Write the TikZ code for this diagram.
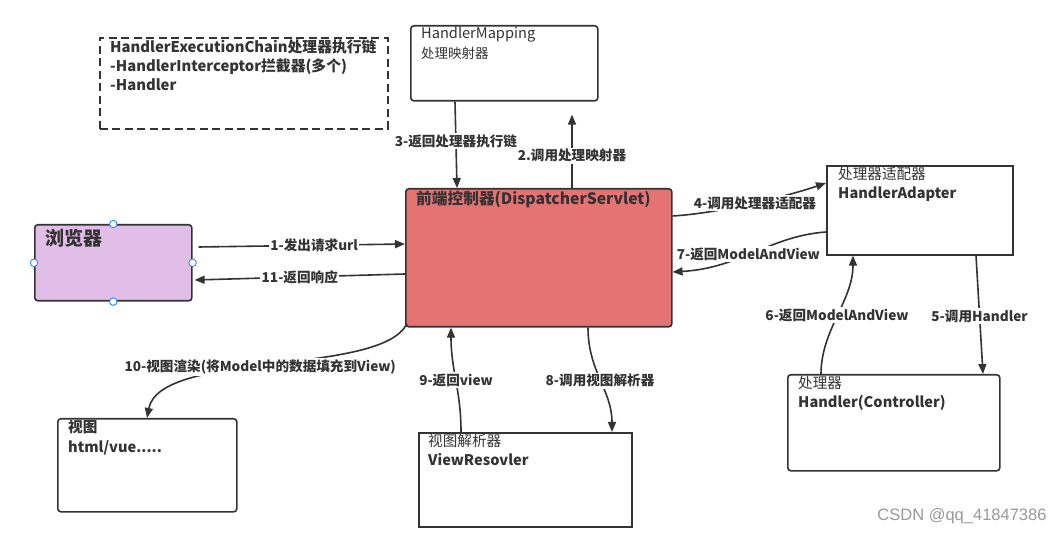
\documentclass[tikz,border=0pt]{standalone}
\usepackage{fontspec}
\setmainfont{Noto Sans CJK SC}
\newfontfamily\markfont{Liberation Sans}
\usetikzlibrary{positioning, calc, arrows.meta}
\definecolor{ink}{HTML}{333333}
\definecolor{dispred}{HTML}{E57373}
\definecolor{brwpurple}{HTML}{E1BEE7}
\definecolor{selblue}{HTML}{2A8CF0}
\newcommand\boxfont{\fontsize{14.6}{19.5}\selectfont}
\newcommand\lblfont{\fontsize{13.6}{16}\selectfont\bfseries}
\tikzset{box/.style={draw=ink, line width=1.6pt, anchor=north west, inner sep=0pt}}
\tikzset{rbox/.style={box, rounded corners=3pt}}
\tikzset{txt/.style={anchor=north west, inner sep=0pt, align=left, text=ink, font=\boxfont}}
\tikzset{arr/.style={draw=ink, line width=1.6pt, -{Triangle[length=10pt,width=8pt]}}}
\tikzset{lbl/.style={fill=white, text=ink, inner sep=1.5pt, font=\lblfont}}
\tikzset{handle/.style={circle, draw=selblue, fill=white, line width=0.9pt, inner sep=0pt, minimum size=7.5pt}}

\begin{document}
\begin{tikzpicture}[x=1pt, y=-1pt]
  \useasboundingbox (0,0) rectangle (1063,534);

  % boxes
  \node[box, dash pattern=on 8pt off 4.5pt, minimum width=288pt, minimum height=91pt] (chain) at (99,37) {};
  \node[rbox, minimum width=187pt, minimum height=75pt] (hm) at (410,25) {};
  \node[rbox, fill=dispred, minimum width=266pt, minimum height=138pt] (disp) at (405,188) {};
  \node[rbox, fill=brwpurple, minimum width=157pt, minimum height=76pt] (brw) at (34,224) {};
  \node[box, minimum width=186pt, minimum height=89pt] (ha) at (826,165) {};
  \node[rbox, minimum width=212pt, minimum height=96pt] (hdl) at (787,374) {};
  \node[rbox, minimum width=179pt, minimum height=93pt] (view) at (57,418) {};
  \node[box, minimum width=213pt, minimum height=94pt] (vr) at (418,432) {};

  \node[txt, font=\fontsize{14.8}{19}\selectfont\bfseries] (chainT) at ([xshift=11pt,yshift=-3pt]chain.north west)
    {HandlerExecutionChain处理器执行链\\-HandlerInterceptor拦截器(多个)\\-Handler};
  \node[txt] (hmT) at ([xshift=11pt,yshift=-2pt]hm.north west) {HandlerMapping\\{\fontsize{13.5}{15}\selectfont 处理映射器}};
  \node[txt, font=\fontsize{15.7}{18}\selectfont\bfseries] (dispT) at ([xshift=11pt,yshift=-3pt]disp.north west) {前端控制器(DispatcherServlet)};
  \node[txt, font=\fontsize{19}{20}\selectfont\bfseries] (brwT) at ([xshift=11pt,yshift=-5pt]brw.north west) {浏览器};
  \node[txt] (haT) at ([xshift=12pt,yshift=-2pt]ha.north west) {处理器适配器\\\textbf{HandlerAdapter}};
  \node[txt] (hdlT) at ([xshift=11pt,yshift=-2pt]hdl.north west) {处理器\\\textbf{Handler(Controller)}};
  \node[txt] (viewT) at ([xshift=11pt,yshift=-2pt]view.north west) {\textbf{视图}\\\textbf{html/vue.....}};
  \node[txt] (vrT) at ([xshift=10pt,yshift=-2pt]vr.north west) {视图解析器\\\textbf{ViewResovler}};

  % selection handles
  \node[handle] (hN) at (brw.north) {};
  \node[handle] (hS) at (brw.south) {};
  \node[handle] (hW) at (brw.west) {};
  \node[handle] (hE) at (brw.east) {};

  % connectors
  \draw[arr] ([xshift=6pt,yshift=-23pt]brw.north east) -- node[lbl, pos=0.56] (l1) {1-发出请求url} ([yshift=-56pt]disp.north west);
  \draw[arr] ([yshift=-86pt]disp.north west) -- node[lbl, pos=0.5] (l11) {11-返回响应} ([xshift=2pt,yshift=-56pt]brw.north east);
  \draw[arr] ([xshift=167pt]disp.north west) -- node[lbl, pos=0.44] (l2) {2.调用处理映射器} ([xshift=162pt,yshift=-13pt]hm.south west);
  \draw[arr] ([xshift=45pt]hm.south west) -- node[lbl, pos=0.46] (l3) {3-返回处理器执行链} ([xshift=52pt]disp.north west);
  \draw[arr] ([yshift=-28pt]disp.north east) .. controls +(50,-3) and +(-35,12) .. node[lbl] (l4) {4-调用处理器适配器} (ha.north west |- 0,183);
  \draw[arr] ([xshift=150pt]ha.south west) -- node[lbl, pos=0.51] (l5) {5-调用Handler} ([xshift=196pt]hdl.north west);
  \draw[arr] ([xshift=34pt]hdl.north west) .. controls +(0,-44) and +(0,45) .. node[lbl] (l6) {6-返回ModelAndView} ([xshift=27pt]ha.south west);
  \draw[arr] ([yshift=-67pt]ha.north west) .. controls +(-56,4) and +(68,-4) .. node[lbl, pos=0.54] (l7) {7-返回ModelAndView} ([yshift=-84pt]disp.north east);
  \draw[arr] ([xshift=183pt]disp.south west) .. controls +(0,44) and +(0,-42) .. node[lbl] (l8) {8-调用视图解析器} ([xshift=194pt]vr.north west);
  \draw[arr] ([xshift=43pt]vr.north west) .. controls +(0,-42) and +(0,43) .. node[lbl] (l9) {9-返回view} ([xshift=46pt]disp.south west);
  \draw[arr] ([xshift=2pt,yshift=4pt]disp.south west) .. controls +(-26,53) and +(13,-68) .. node[lbl, pos=0.533] (l10) {10-视图渲染(将Model中的数据填充到View)} ([xshift=90pt]view.north west);

  \node[text=black!40, font=\markfont\fontsize{16.5}{18}\selectfont] (mark) at (962,516) {CSDN @qq\_41847386};
\end{tikzpicture}
\end{document}
